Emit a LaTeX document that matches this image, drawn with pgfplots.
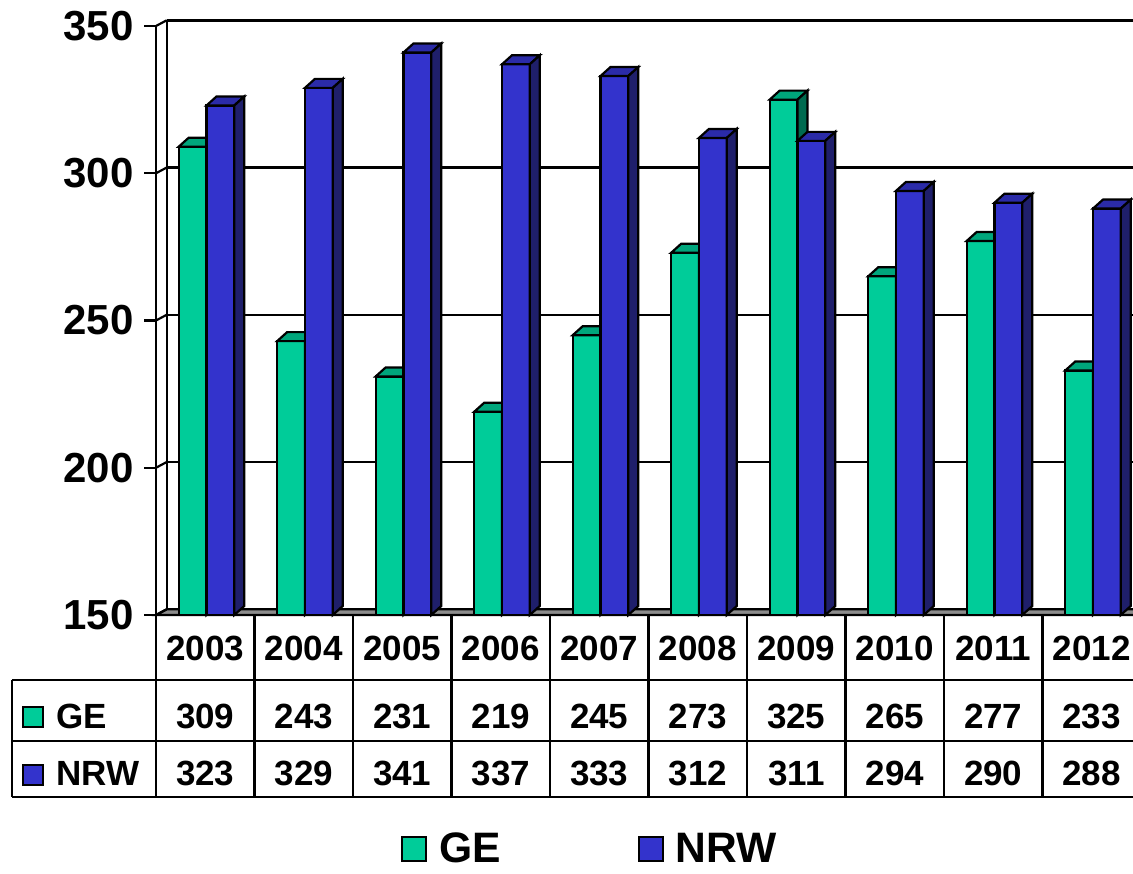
\documentclass[border=0pt]{standalone}
\usepackage{pgfplots}
\usepackage{pgfplotstable}
\pgfplotsset{compat=1.18}
\usepackage{fontspec}
\setmainfont{Liberation Sans}
\definecolor{gefront}{HTML}{00CC99}
\definecolor{getop}{HTML}{00A67C}
\definecolor{geside}{HTML}{006B50}
\definecolor{nrwfront}{HTML}{3333CC}
\definecolor{nrwtop}{HTML}{2B2BA8}
\definecolor{nrwside}{HTML}{1F1F6B}
\definecolor{floorgray}{HTML}{8C8C8C}

\pgfplotstableread{
i year ge nrw
0 2003 309 323
1 2004 243 329
2 2005 231 341
3 2006 219 337
4 2007 245 333
5 2008 273 312
6 2009 325 311
7 2010 265 294
8 2011 277 290
9 2012 233 288
}\datatable

% 3D box drawn at the top-centre of each category: front, top and side faces
\newcommand{\boxmark}[6]{%
\pgfdeclareplotmark{#1}{%
  \pgfmathsetmacro\hh{(\myy-150)*1.4725}%
  \pgfsetlinewidth{1.1bp}\pgfsetmiterjoin\pgfsetstrokecolor{black}%
  \pgfsetfillcolor{#4}%
  \pgfpathmoveto{\pgfpoint{#2}{0bp}}%
  \pgfpathlineto{\pgfpoint{#3}{0bp}}%
  \pgfpathlineto{\pgfpoint{#3}{-\hh bp}}%
  \pgfpathlineto{\pgfpoint{#2}{-\hh bp}}%
  \pgfpathclose
  \pgfusepath{fill,stroke}%
  \pgfsetfillcolor{#5}%
  \pgfpathmoveto{\pgfpoint{#2}{0bp}}%
  \pgfpathlineto{\pgfpoint{#3}{0bp}}%
  \pgfpathlineto{\pgfpoint{#3+5bp}{4.5bp}}%
  \pgfpathlineto{\pgfpoint{#2+5bp}{4.5bp}}%
  \pgfpathclose
  \pgfusepath{fill,stroke}%
  \pgfsetfillcolor{#6}%
  \pgfpathmoveto{\pgfpoint{#3}{0bp}}%
  \pgfpathlineto{\pgfpoint{#3+5bp}{4.5bp}}%
  \pgfpathlineto{\pgfpoint{#3+5bp}{4.5bp-\hh bp}}%
  \pgfpathlineto{\pgfpoint{#3}{-\hh bp}}%
  \pgfpathclose
  \pgfusepath{fill,stroke}%
}}
\boxmark{gebox}{-13.3bp}{0.6bp}{gefront}{getop}{geside}
\boxmark{nrwbox}{0.6bp}{14.5bp}{nrwfront}{nrwtop}{nrwside}

\pgfplotsset{sqlegend/.style={legend image code/.code={\draw[##1, line width=1.1bp] (0bp,-6bp) rectangle (12bp,6bp);}}}

\newcommand\tickfont{\fontsize{21bp}{25bp}\selectfont\bfseries}
\newcommand\tabfont{\fontsize{17.5bp}{21bp}\selectfont\bfseries}
\newcommand\legfont{\fontsize{21.3bp}{25bp}\selectfont\bfseries}

\begin{document}
\begin{tikzpicture}
\useasboundingbox (0,0) rectangle (566.5bp,-437bp);
\fill[white] (0,0) rectangle (566.5bp,-437bp);
% floor and back wall (pixel units, y downward)
\begin{scope}[x=0.5bp,y=-0.5bp,line width=1.1bp]
  \draw[fill=floorgray] (156,615) -- (1141,615) -- (1151.7,609.3) -- (166.7,609.3) -- cycle;
  \draw (166.7,609.3) -- (166.7,20.7) -- (1160,20.7);
  \foreach \yy in {26,173.25,320.5,467.75,615} \draw (156,\yy) -- (166.7,\yy-5.7);
\end{scope}
\begin{axis}[
  at={(78bp,-307.5bp)}, anchor=south west,
  scale only axis, width=492.5bp, height=294.5bp,
  xmin=-0.5, xmax=9.5, ymin=150, ymax=350,
  axis x line*=bottom, axis y line*=left,
  x axis line style={-}, y axis line style={-},
  axis line style={line width=1.1bp, black},
  ytick={150,200,250,300,350},
  tick align=outside, major tick length=6bp,
  ytick style={line width=1.1bp, black},
  xtick={0,1,2,3,4,5,6,7,8,9},
  xticklabels={2003,2004,2005,2006,2007,2008,2009,2010,2011,2012},
  xtick style={draw=none},
  yticklabel style={font=\tickfont, inner sep=0pt, xshift=-5bp},
  xticklabel style={font=\tabfont, anchor=base, inner sep=0pt, yshift=-16.85bp},
  /pgf/number format/assume math mode=true,
  ymajorgrids, major grid style={line width=1.1bp, black, shift={(5.35bp,2.85bp)}},
  legend columns=2,
  legend cell align=left,
  legend style={at={(0.2488,-0.3973)}, anchor=west, draw=none, fill=none,
    inner sep=0pt, outer sep=0pt, font=\legfont,
    /tikz/every odd column/.append style={column sep=4bp},
    /tikz/every even column/.append style={column sep=66.5bp}},
]
\addplot[ybar, bar width=13.9bp, bar shift=-6.35bp, fill=gefront, draw=black, line width=1.1bp, sqlegend]
  table[x=i, y=ge]{\datatable};
\addlegendentry{GE}
\addplot[forget plot, scatter, only marks, mark=gebox,
  visualization depends on={rawy \as \myy}]
  table[x=i, y=ge]{\datatable};
\addplot[ybar, bar width=13.9bp, bar shift=7.55bp, fill=nrwfront, draw=black, line width=1.1bp, sqlegend]
  table[x=i, y=nrw]{\datatable};
\addlegendentry{NRW}
\addplot[forget plot, scatter, only marks, mark=nrwbox,
  visualization depends on={rawy \as \myy}]
  table[x=i, y=nrw]{\datatable};
\end{axis}
% data table below the chart (pixel units, y downward)
\begin{scope}[x=0.5bp,y=-0.5bp,line width=1.1bp]
  \draw (12,680) -- (1145,680);
  \draw (12,741) -- (1145,741);
  \draw (12,797) -- (1145,797);
  \draw (12,680) -- (12,797);
  \foreach \k in {0,...,10} \draw ({156+98.5*\k},615) -- ({156+98.5*\k},797);
  \draw[fill=gefront] (23,707) rectangle (43,727);
  \draw[fill=nrwfront] (23,765) rectangle (43,785);
  \node[anchor=base west, inner sep=0pt, font=\tabfont] at (55,729) {GE};
  \node[anchor=base west, inner sep=0pt, font=\tabfont] at (55,785.5) {NRW};
  \foreach \v [count=\k from 0] in {309,243,231,219,245,273,325,265,277,233}
    \node[anchor=base, inner sep=0pt, font=\tabfont] at ({205.25+98.5*\k},729) {\v};
  \foreach \v [count=\k from 0] in {323,329,341,337,333,312,311,294,290,288}
    \node[anchor=base, inner sep=0pt, font=\tabfont] at ({205.25+98.5*\k},785.5) {\v};
\end{scope}
\end{tikzpicture}
\end{document}
